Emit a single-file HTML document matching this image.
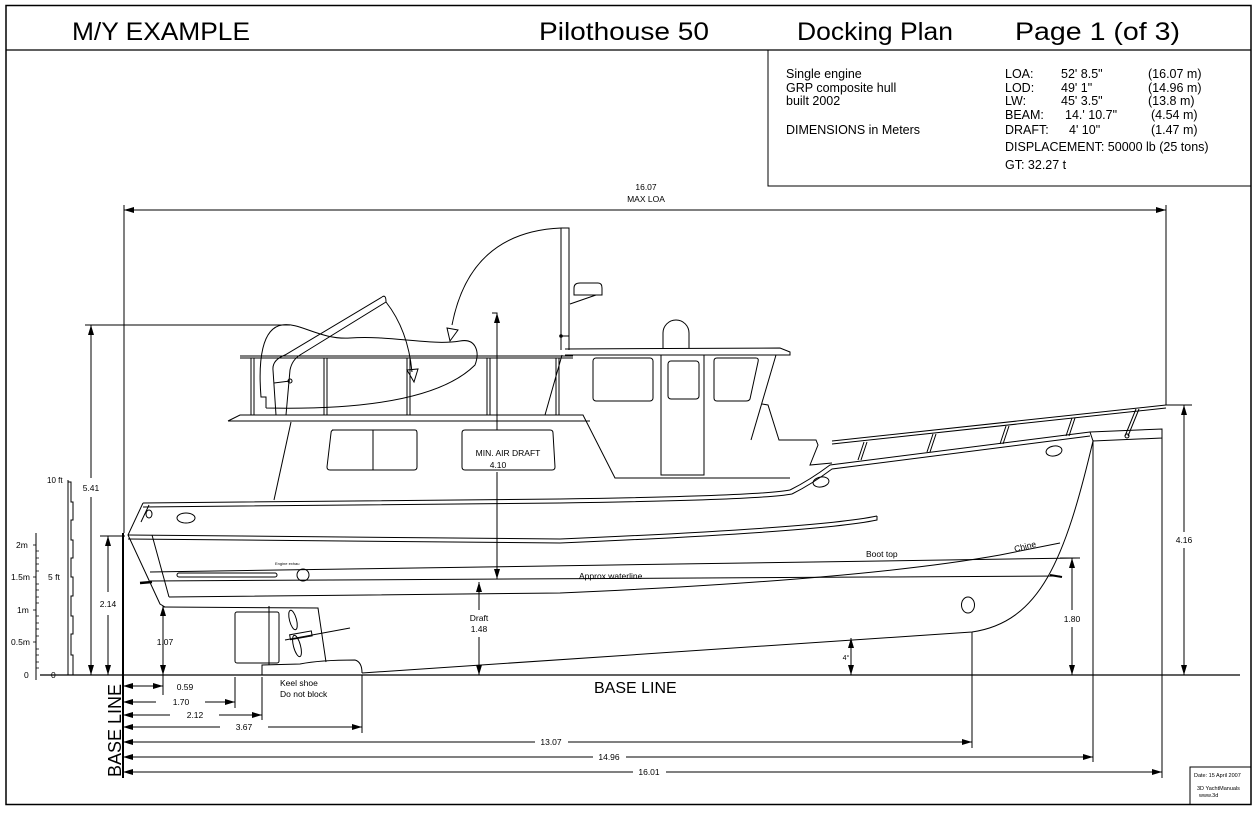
<!DOCTYPE html>
<html><head><meta charset="utf-8"><style>
html,body{margin:0;padding:0;background:#fff;}
svg{display:block;font-family:"Liberation Sans",sans-serif;}
text{fill:#000;}
</style></head><body>
<svg width="1256" height="818" viewBox="0 0 1256 818" xmlns="http://www.w3.org/2000/svg">
<defs>
<marker id="a" viewBox="0 0 10 6" refX="10" refY="3" markerWidth="10" markerHeight="6" markerUnits="userSpaceOnUse" orient="auto-start-reverse"><path d="M0,0 L10,3 L0,6 Z" fill="#000"/></marker>
</defs>
<rect x="0" y="0" width="1256" height="818" fill="#fff"/>
<rect x="6" y="5.5" width="1245" height="799" fill="none" stroke="#000" stroke-width="1.5"/>
<line x1="6" y1="50" x2="1251" y2="50" stroke="#000" stroke-width="1.2"/>
<g font-size="25">
<text x="72" y="40" textLength="178" lengthAdjust="spacingAndGlyphs">M/Y EXAMPLE</text>
<text x="539" y="40" textLength="170" lengthAdjust="spacingAndGlyphs">Pilothouse  50</text>
<text x="797" y="40" textLength="156" lengthAdjust="spacingAndGlyphs">Docking Plan</text>
<text x="1015" y="40" textLength="165" lengthAdjust="spacingAndGlyphs">Page 1 (of 3)</text>
</g>
<polyline points="768,50 768,186 1251,186" fill="none" stroke="#000" stroke-width="1"/>
<g font-size="12.5">
<text x="786" y="78">Single engine</text>
<text x="786" y="92">GRP composite hull</text>
<text x="786" y="105">built 2002</text>
<text x="786" y="134">DIMENSIONS in Meters</text>
<text x="1005" y="78">LOA:</text><text x="1061" y="78">52' 8.5"</text><text x="1148" y="78">(16.07 m)</text>
<text x="1005" y="92">LOD:</text><text x="1061" y="92">49' 1"</text><text x="1148" y="92">(14.96 m)</text>
<text x="1005" y="105">LW:</text><text x="1061" y="105">45' 3.5"</text><text x="1148" y="105">(13.8 m)</text>
<text x="1005" y="119">BEAM:</text><text x="1065" y="119">14.' 10.7"</text><text x="1151" y="119">(4.54 m)</text>
<text x="1005" y="134">DRAFT:</text><text x="1069" y="134">4' 10"</text><text x="1151" y="134">(1.47 m)</text>
<text x="1005" y="151">DISPLACEMENT: 50000 lb (25 tons)</text>
<text x="1005" y="169">GT: 32.27 t</text>
</g>

<g stroke="#000" fill="none" stroke-width="1">
<line x1="40" y1="675" x2="1240" y2="675" stroke-width="1.3"/>
<line x1="123" y1="533" x2="123" y2="778" stroke-width="2"/>
<line x1="124" y1="205" x2="124" y2="533"/>
<line x1="1166" y1="205" x2="1166" y2="405"/>
<line x1="124" y1="210" x2="1166" y2="210" marker-start="url(#a)" marker-end="url(#a)"/>
<line x1="85" y1="325" x2="290" y2="325"/>
<line x1="91" y1="325" x2="91" y2="478" marker-start="url(#a)"/>
<line x1="91" y1="497" x2="91" y2="675" marker-end="url(#a)"/>
<line x1="100" y1="536" x2="125" y2="536"/>
<line x1="108" y1="536" x2="108" y2="592" marker-start="url(#a)"/>
<line x1="108" y1="615" x2="108" y2="675" marker-end="url(#a)"/>
<line x1="163" y1="606" x2="163" y2="675" marker-start="url(#a)" marker-end="url(#a)"/>
<polyline points="492,313 497,313 497,430"/>
<line x1="497" y1="325" x2="497" y2="313" marker-end="url(#a)"/>
<line x1="497" y1="472" x2="497" y2="579" marker-end="url(#a)"/>
<line x1="479" y1="582" x2="479" y2="610" marker-start="url(#a)"/>
<line x1="479" y1="637" x2="479" y2="675" marker-end="url(#a)"/>
<line x1="851" y1="638" x2="851" y2="675" marker-start="url(#a)" marker-end="url(#a)"/>
<line x1="1060" y1="558" x2="1080" y2="558"/>
<line x1="1072" y1="558" x2="1072" y2="610" marker-start="url(#a)"/>
<line x1="1072" y1="627" x2="1072" y2="675" marker-end="url(#a)"/>
<line x1="1166" y1="405" x2="1192" y2="405"/>
<line x1="1184" y1="405" x2="1184" y2="532" marker-start="url(#a)"/>
<line x1="1184" y1="548" x2="1184" y2="675" marker-end="url(#a)"/>
<line x1="163" y1="675" x2="163" y2="695"/>
<line x1="123" y1="686" x2="163" y2="686" marker-start="url(#a)" marker-end="url(#a)"/>
<line x1="235" y1="677" x2="235" y2="708"/>
<line x1="123" y1="702" x2="156" y2="702" marker-start="url(#a)"/>
<line x1="205" y1="702" x2="235" y2="702" marker-end="url(#a)"/>
<line x1="262" y1="677" x2="262" y2="720"/>
<line x1="123" y1="715" x2="170" y2="715" marker-start="url(#a)"/>
<line x1="219" y1="715" x2="262" y2="715" marker-end="url(#a)"/>
<line x1="362" y1="675" x2="362" y2="733"/>
<line x1="123" y1="727" x2="220" y2="727" marker-start="url(#a)"/>
<line x1="268" y1="727" x2="362" y2="727" marker-end="url(#a)"/>
<line x1="972" y1="632" x2="972" y2="748"/>
<line x1="123" y1="742" x2="535" y2="742" marker-start="url(#a)"/>
<line x1="568" y1="742" x2="972" y2="742" marker-end="url(#a)"/>
<line x1="1093" y1="440" x2="1093" y2="762"/>
<line x1="123" y1="757" x2="593" y2="757" marker-start="url(#a)"/>
<line x1="626" y1="757" x2="1093" y2="757" marker-end="url(#a)"/>
<line x1="1162" y1="432" x2="1162" y2="778"/>
<line x1="123" y1="772" x2="633" y2="772" marker-start="url(#a)"/>
<line x1="666" y1="772" x2="1162" y2="772" marker-end="url(#a)"/>
<polyline points="1190,805 1190,767 1251,767"/>

<line x1="36" y1="533" x2="36" y2="680"/>
<g stroke-width="0.8">
<line x1="33" y1="545" x2="36" y2="545"/><line x1="33" y1="577" x2="36" y2="577"/><line x1="33" y1="610" x2="36" y2="610"/><line x1="33" y1="642" x2="36" y2="642"/>
<path d="M36,551h3M36,558h3M36,564h3M36,571h3M36,584h3M36,590h3M36,597h3M36,603h3M36,616h3M36,623h3M36,629h3M36,636h3M36,649h3M36,655h3M36,662h3M36,668h3"/>
</g>
<path d="M68,675 V482 H71 V502 H73 V520 H71 V540 H73 V558 H71 V577 H73 V596 H71 V616 H73 V634 H71 V655 H73 V675"/>
<line x1="68" y1="480" x2="68" y2="675"/>

<path d="M143,503 L560,499 Q760,496 790,490" />
<path d="M143,507 L560,503 Q760,500 792,494"/>
<path d="M143,503 L128,535 L160,604 L165,607"/>
<path d="M149,505 L141,522 M152,535 L169,597"/>
<path d="M128,535 L560,539 Q820,528 877,516"/>
<path d="M128,539 L560,543 Q820,532 877,520 L877,516"/>
<path d="M150,572 L1078,558"/>
<path d="M150,581 L1060,576"/>
<path d="M140,583 L152,582" stroke-width="2.5"/>
<path d="M1050,575 L1062,577" stroke-width="2"/>
<path d="M169,597 L560,593 Q860,580 1000,555 L1060,543"/>
<rect x="177" y="573" width="100" height="4" rx="2"/>
<circle cx="303" cy="575" r="6"/>
<path d="M163,607 L318,608 L326,662"/>
<rect x="235" y="612" width="44" height="51" rx="2"/>
<line x1="269" y1="606" x2="269" y2="665"/>
<path d="M262,675 L262,665 L300,664 Q320,660 355,660 Q362,662 362,673"/>
<path d="M362,673 L972,632 C1040,622 1065,560 1093,441"/>
<ellipse cx="293" cy="620" rx="3.5" ry="10" transform="rotate(-15 293 620)"/>
<ellipse cx="297" cy="646" rx="3.5" ry="11" transform="rotate(-15 297 646)"/>
<line x1="285" y1="640" x2="350" y2="628"/>
<rect x="290" y="633" width="22" height="5" transform="rotate(-10 300 636)"/>
<ellipse cx="186" cy="518" rx="9" ry="5"/>
<ellipse cx="149" cy="514" rx="3" ry="4"/>
<ellipse cx="821" cy="482" rx="8" ry="5" transform="rotate(-10 821 482)"/>
<ellipse cx="1054" cy="451" rx="8" ry="5" transform="rotate(-10 1054 451)"/>
<ellipse cx="968" cy="605" rx="6.5" ry="8"/>

<path d="M790,490 Q810,480 830,465 L1090,432"/>
<path d="M792,494 Q812,484 832,469 L1090,436"/>
<path d="M1090,432 L1162,429 L1162,438 L1093,441 Z"/>
<circle cx="1127" cy="436" r="2"/>
<path d="M832,441 L1166,405 M832,444 L1166,408"/>
<path d="M858,460 L864,442 M861,460 L867,442 M927,452 L933,434 M930,452 L936,434 M1000,444 L1006,426 M1003,444 L1009,426 M1066,436 L1072,418 M1069,436 L1075,418 M1125,436 L1136,409 M1128,436 L1139,409"/>

<path d="M274,500 L291,422"/>
<path d="M228,421 L240,415 L583,415 L615,478 L790,478"/>
<path d="M228,421 L590,421"/>
<path d="M332,430 L415,430 Q417,430 417,433 L417,467 Q417,470 414,470 L330,470 Q327,470 327,467 L331,433 Q331,430 334,430 Z"/>
<line x1="373" y1="430" x2="373" y2="470"/>
<path d="M465,430 L550,430 Q553,430 553,433 L555,467 Q555,470 552,470 L465,470 Q462,470 462,467 L462,433 Q462,430 465,430 Z"/>
<path d="M565,349 L780,348 L790,352 L790,355 L565,355"/>
<path d="M663,348 L663,333 A13,13 0 0 1 689,333 L689,348"/>
<rect x="593" y="358" width="60" height="43" rx="3"/>
<rect x="661" y="355" width="43" height="120"/>
<rect x="668" y="361" width="31" height="38" rx="3"/>
<path d="M717,358 L756,358 Q759,358 758,362 L750,399 Q749,401 746,401 L717,401 Q714,401 714,398 L714,361 Q714,358 717,358 Z"/>
<path d="M776,355 L751,440"/>
<path d="M762,404 L768,405 L779,440 L816,440 L818,445 L810,465 L832,463"/>
<path d="M561,228 L569,228 L569,350 M561,228 L561,350"/>
<line x1="560" y1="336" x2="569" y2="336"/>
<circle cx="561" cy="336" r="1.3"/>
<path d="M574,295 L574,288 Q574,283 580,283 L598,283 Q602,283 602,288 L602,295 Z"/>
<path d="M570,304 L596,295"/>
<path d="M562,355 L545,415"/>
<path d="M240,356 L573,356 M240,358 L573,358"/>
<path d="M251,358 V415 M254,358 V415 M324,358 V415 M327,358 V415 M407,358 V415 M410,358 V415 M487,358 V415 M490,358 V415 M556,358 V415 M559,358 V415"/>
<path d="M266,408 L266,397 L261,397 C258,360 262,328 282,325 C300,322 320,340 350,338 C390,335 430,346 460,341 C476,338 480,352 475,365 C440,400 360,410 266,408"/>
<path d="M276,415 L273,370 Q272,360 285,355 L382,297 M286,415 L290,370 Q292,360 300,355 L386,302"/>
<path d="M382,297 Q386,294 386,302"/>
<path d="M274,383 L290,381"/>
<circle cx="290" cy="381" r="2"/>
<path d="M386,302 Q408,330 412,372"/>
<path d="M407,370 L418,369 L414,382 Z"/>
<path d="M561,228 Q470,232 452,325"/>
<path d="M447,328 L458,330 L450,341 Z"/>
</g>

<g font-size="8.5" text-anchor="middle">
<text x="646" y="190">16.07</text>
<text x="646" y="202">MAX LOA</text>
<text x="91" y="491">5.41</text>
<text x="108" y="607">2.14</text>
<text x="165" y="645">1.07</text>
<text x="479" y="621">Draft</text>
<text x="479" y="632">1.48</text>
<text x="508" y="456">MIN. AIR DRAFT</text>
<text x="498" y="468">4.10</text>
<text x="846" y="660" font-size="7">4°</text>
<text x="1072" y="622">1.80</text>
<text x="1184" y="543">4.16</text>
<text x="185" y="690">0.59</text>
<text x="181" y="705">1.70</text>
<text x="195" y="718">2.12</text>
<text x="244" y="730">3.67</text>
<text x="551" y="745">13.07</text>
<text x="609" y="760">14.96</text>
<text x="649" y="775">16.01</text>
</g>
<g font-size="8.5">
<text x="280" y="686">Keel shoe</text>
<text x="280" y="697">Do not block</text>
<text x="866" y="557">Boot top</text>
<text x="579" y="579">Approx waterline</text>
<text x="1015" y="552" transform="rotate(-14 1015 552)">Chine</text>
<text x="47" y="483" font-size="8">10 ft</text>
<text x="48" y="580">5 ft</text>
<text x="51" y="678">0</text>
<text x="16" y="548">2m</text>
<text x="11" y="580">1.5m</text>
<text x="17" y="613">1m</text>
<text x="11" y="645">0.5m</text>
<text x="24" y="678">0</text>
<text x="275" y="565" font-size="4">Engine exhau</text>
</g>
<text x="594" y="693" font-size="16">BASE LINE</text>
<text transform="translate(121,777) rotate(-90)" font-size="18">BASE LINE</text>
<g font-size="5.5">
<text x="1194" y="777">Date: 15 April 2007</text>
<text x="1197" y="790">3D YachtManuals</text>
<text x="1199" y="797">www.3d</text>
</g>
</svg>
</body></html>
